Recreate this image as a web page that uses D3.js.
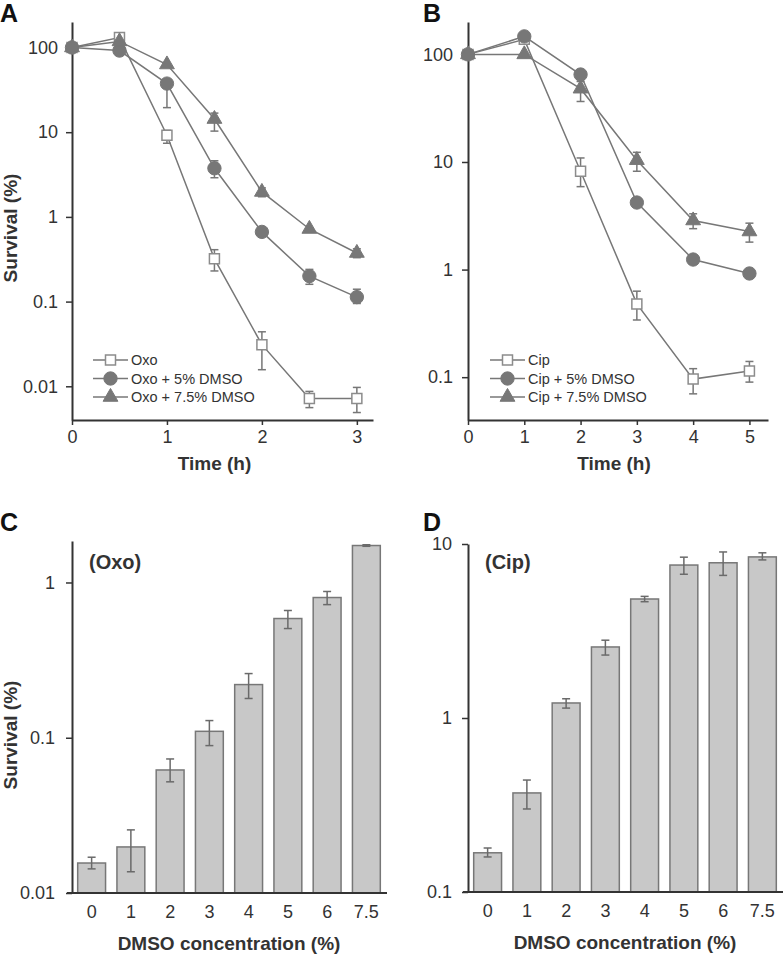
<!DOCTYPE html>
<html><head><meta charset="utf-8">
<script src="https://cdn.jsdelivr.net/npm/d3@7"></script>
<style>
html,body{margin:0;padding:0;background:#fff;}
svg text{font-family:"Liberation Sans",Arial,Helvetica,sans-serif;}
</style></head>
<body><svg id="c" width="783" height="955"></svg>
<script>
// ---------- data ----------
const timeA = [0, 0.5, 1, 1.5, 2, 2.5, 3];
const oxo      = [100, 131, 9.2, 0.32, 0.031, 0.0072, 0.0072];
const oxoLo    = [100, 131, 7.4, 0.23, 0.0157, 0.0056, 0.0049];
const oxoHi    = [100, 131, 10.5, 0.41, 0.044, 0.0087, 0.0097];
const oxo5     = [100, 92, 37.5, 3.75, 0.665, 0.2, 0.113];
const oxo5Lo   = [100, 92, 19.5, 2.9, 0.665, 0.16, 0.095];
const oxo5Hi   = [100, 92, 37.5, 4.6, 0.665, 0.24, 0.14];
const oxo75    = [100, 118, 63, 14.3, 1.97, 0.72, 0.375];
const oxo75Lo  = [100, 118, 63, 10.3, 1.73, 0.72, 0.33];
const oxo75Hi  = [100, 118, 63, 16.8, 2.2, 0.72, 0.42];

const timeB = [0, 1, 2, 3, 4, 5];
const cip      = [100, 138, 8.2, 0.48, 0.096, 0.114];
const cipLo    = [100, 138, 5.9, 0.34, 0.07, 0.09];
const cipHi    = [100, 138, 10.9, 0.63, 0.12, 0.14];
const cip5     = [100, 147, 65, 4.2, 1.24, 0.92];
const cip75    = [100, 100, 48, 10.4, 2.86, 2.26];
const cip75Lo  = [100, 100, 36.5, 8.2, 2.4, 1.8];
const cip75Hi  = [100, 100, 56, 12.3, 3.3, 2.7];

const dmso = ["0", "1", "2", "3", "4", "5", "6", "7.5"];
const oxoBar   = [0.0156, 0.0198, 0.062, 0.11, 0.22, 0.586, 0.8, 1.73];
const oxoBarLo = [0.0143, 0.0137, 0.052, 0.089, 0.179, 0.505, 0.72, 1.71];
const oxoBarHi = [0.017, 0.0255, 0.073, 0.129, 0.259, 0.66, 0.875, 1.75];
const cipBar   = [0.168, 0.371, 1.22, 2.56, 4.83, 7.57, 7.8, 8.43];
const cipBarLo = [0.159, 0.30, 1.14, 2.3, 4.66, 6.7, 6.6, 8.1];
const cipBarHi = [0.179, 0.44, 1.29, 2.8, 5.0, 8.4, 9.0, 8.9];

const ticksA = [100, 10, 1, 0.1, 0.01];
const ticksB = [100, 10, 1, 0.1];
const ticksC = [1, 0.1, 0.01];
const ticksD = [10, 1, 0.1];
const xTicksA = [0, 1, 2, 3];
const xTicksB = [0, 1, 2, 3, 4, 5];
const legendA = ["Oxo", "Oxo + 5% DMSO", "Oxo + 7.5% DMSO"];
const legendB = ["Cip", "Cip + 5% DMSO", "Cip + 7.5% DMSO"];

// ---------- styles ----------
const AX = "#333";
const GR = "#777";
const svg = d3.select("#c");
const fmt = d => String(d);

function styleAxis(g) {
  g.selectAll("path.domain").attr("stroke", AX).attr("stroke-width", 2);
  g.selectAll(".tick line").attr("stroke", AX).attr("stroke-width", 1.5);
  g.selectAll(".tick text").attr("fill", "#333").attr("font-size", 18)
    .attr("font-family", "'Liberation Sans',Arial,sans-serif");
}

function marker(sel, kind) {
  if (kind === "square") {
    sel.attr("d", d3.symbol(d3.symbolSquare, 100)())
      .attr("fill", "#fff").attr("stroke", "#8c8c8c").attr("stroke-width", 1.5);
  } else if (kind === "circle") {
    sel.attr("d", d3.symbol(d3.symbolCircle, 140)())
      .attr("fill", GR).attr("stroke", GR).attr("stroke-width", 1);
  } else {
    sel.attr("d", d3.symbol(d3.symbolTriangle, 95)())
      .attr("fill", GR).attr("stroke", GR).attr("stroke-width", 1);
  }
}

function linePanel(cfg) {
  const x = d3.scaleLinear().domain(cfg.xdom).range(cfg.xr);
  const y = d3.scaleLog().domain(cfg.ydom).range(cfg.yr);
  const g = svg.append("g");
  const ya = g.append("g").attr("transform", `translate(${cfg.xr[0]},0)`)
    .call(d3.axisLeft(y).tickValues(cfg.yticks).tickFormat(fmt).tickSizeInner(6).tickSizeOuter(0).tickPadding(cfg.ypad));
  const xa = g.append("g").attr("transform", `translate(0,${cfg.yr[0]})`)
    .call(d3.axisBottom(x).tickValues(cfg.xticks).tickFormat(fmt).tickSizeInner(5).tickSizeOuter(0).tickPadding(5));
  styleAxis(ya); styleAxis(xa);
  const line = d3.line().x(d => x(d[0])).y(d => y(d[1]));
  cfg.series.forEach(s => {
    const pts = cfg.xs.map((t, i) => [t, s.v[i]]);
    g.append("path").attr("d", line(pts)).attr("fill", "none")
      .attr("stroke", GR).attr("stroke-width", 1.5);
  });
  cfg.series.forEach(s => {
    if (!s.lo) return;
    cfg.xs.forEach((t, i) => {
      const lo = s.lo[i], hi = s.hi[i];
      if (lo === hi) return;
      const eg = g.append("g").attr("stroke", GR).attr("stroke-width", 1.5);
      eg.append("line").attr("x1", x(t)).attr("x2", x(t)).attr("y1", y(lo)).attr("y2", y(hi));
      if (lo < s.v[i]) eg.append("line").attr("x1", x(t) - 4).attr("x2", x(t) + 4).attr("y1", y(lo)).attr("y2", y(lo));
      if (hi > s.v[i]) eg.append("line").attr("x1", x(t) - 4).attr("x2", x(t) + 4).attr("y1", y(hi)).attr("y2", y(hi));
    });
  });
  cfg.series.forEach(s => {
    cfg.xs.forEach((t, i) => {
      g.append("path").attr("transform", `translate(${x(t)},${y(s.v[i])})`).call(marker, s.kind);
    });
  });
  // legend
  cfg.series.forEach((s, i) => {
    const ly = cfg.leg[1] + i * 18.5;
    g.append("line").attr("x1", cfg.leg[0]).attr("x2", cfg.leg[0] + 35).attr("y1", ly).attr("y2", ly)
      .attr("stroke", GR).attr("stroke-width", 1.5);
    g.append("path").attr("transform", `translate(${cfg.leg[0] + 17.5},${ly})`).call(marker, s.kind);
    g.append("text").attr("x", cfg.leg[0] + 38).attr("y", ly + 5).attr("font-size", 14.5)
      .attr("fill", "#333").text(cfg.labels[i]);
  });
  g.append("text").attr("x", (cfg.xr[0] + cfg.xr[1]) / 2 + cfg.titleDx).attr("y", cfg.yr[0] + 50)
    .attr("text-anchor", "middle").attr("font-size", 19).attr("font-weight", "bold").attr("fill", "#333")
    .text("Time (h)");
}

function barPanel(cfg) {
  const x = d3.scaleBand().domain(dmso).range(cfg.xr).paddingInner(0.29).paddingOuter(0.145);
  const y = d3.scaleLog().domain(cfg.ydom).range(cfg.yr);
  const g = svg.append("g");
  g.selectAll("rect.bar").data(cfg.v).enter().append("rect")
    .attr("x", (d, i) => x(dmso[i])).attr("width", x.bandwidth())
    .attr("y", d => y(d)).attr("height", d => cfg.yr[0] - y(d))
    .attr("fill", "#c8c8c8").attr("stroke", "#777").attr("stroke-width", 1.5);
  cfg.v.forEach((d, i) => {
    const cx = x(dmso[i]) + x.bandwidth() / 2;
    const eg = g.append("g").attr("stroke", "#6a6a6a").attr("stroke-width", 1.5);
    eg.append("line").attr("x1", cx).attr("x2", cx).attr("y1", y(cfg.lo[i])).attr("y2", y(cfg.hi[i]));
    eg.append("line").attr("x1", cx - 4).attr("x2", cx + 4).attr("y1", y(cfg.lo[i])).attr("y2", y(cfg.lo[i]));
    eg.append("line").attr("x1", cx - 4).attr("x2", cx + 4).attr("y1", y(cfg.hi[i])).attr("y2", y(cfg.hi[i]));
  });
  const ya = g.append("g").attr("transform", `translate(${cfg.xr[0]},0)`)
    .call(d3.axisLeft(y).tickValues(cfg.yticks).tickFormat(fmt).tickSizeInner(6).tickSizeOuter(0).tickPadding(cfg.ypad));
  const xa = g.append("g").attr("transform", `translate(0,${cfg.yr[0]})`)
    .call(d3.axisBottom(x).tickSize(0).tickPadding(12));
  styleAxis(ya); styleAxis(xa);
  xa.select("path.domain").attr("d", `M${cfg.xr[0] - 5},0H${cfg.xr[1] + 1}`);
  g.append("text").attr("x", cfg.xr[0] + 17).attr("y", cfg.lblY).attr("font-size", 20)
    .attr("font-weight", "bold").attr("fill", "#333").text(cfg.label);
  g.append("text").attr("x", (cfg.xr[0] + cfg.xr[1]) / 2).attr("y", cfg.yr[0] + 57)
    .attr("text-anchor", "middle").attr("font-size", 19).attr("font-weight", "bold").attr("fill", "#333")
    .text("DMSO concentration (%)");
}

linePanel({
  xdom: [0, 3.17], xr: [72, 373], ydom: [0.004, 200], yr: [420, 22], ypad: 8,
  yticks: ticksA, xticks: xTicksA, xs: timeA, titleDx: -8,
  series: [
    {v: oxo, lo: oxoLo, hi: oxoHi, kind: "square"},
    {v: oxo5, lo: oxo5Lo, hi: oxo5Hi, kind: "circle"},
    {v: oxo75, lo: oxo75Lo, hi: oxo75Hi, kind: "triangle"}
  ],
  leg: [93, 360], labels: legendA
});
linePanel({
  xdom: [0, 5.33], xr: [468, 768], ydom: [0.04, 200], yr: [420, 22], ypad: 9,
  yticks: ticksB, xticks: xTicksB, xs: timeB, titleDx: -4,
  series: [
    {v: cip, lo: cipLo, hi: cipHi, kind: "square"},
    {v: cip5, kind: "circle"},
    {v: cip75, lo: cip75Lo, hi: cip75Hi, kind: "triangle"}
  ],
  leg: [490, 360], labels: legendB
});
barPanel({xr: [72, 386], ydom: [0.01, 1.85], yr: [893, 541], yticks: ticksC, ypad: 11,
  v: oxoBar, lo: oxoBarLo, hi: oxoBarHi, label: "(Oxo)", lblY: 569});
barPanel({xr: [468, 782], ydom: [0.1, 10], yr: [892, 544], yticks: ticksD, ypad: 10,
  v: cipBar, lo: cipBarLo, hi: cipBarHi, label: "(Cip)", lblY: 569});

// y titles
[[228], [735]].forEach(([cy]) => {
  svg.append("text").attr("transform", `translate(17,${cy}) rotate(-90)`)
    .attr("text-anchor", "middle").attr("font-size", 19).attr("font-weight", "bold").attr("fill", "#333")
    .text("Survival (%)");
});

// panel letters
[["A", 0, 22], ["B", 423, 22], ["C", 0, 531], ["D", 423, 531]].forEach(([t, lx, ly]) => {
  svg.append("text").attr("x", lx).attr("y", ly).attr("font-size", 25).attr("font-weight", "bold")
    .attr("fill", "#111").text(t);
});
</script></body></html>
